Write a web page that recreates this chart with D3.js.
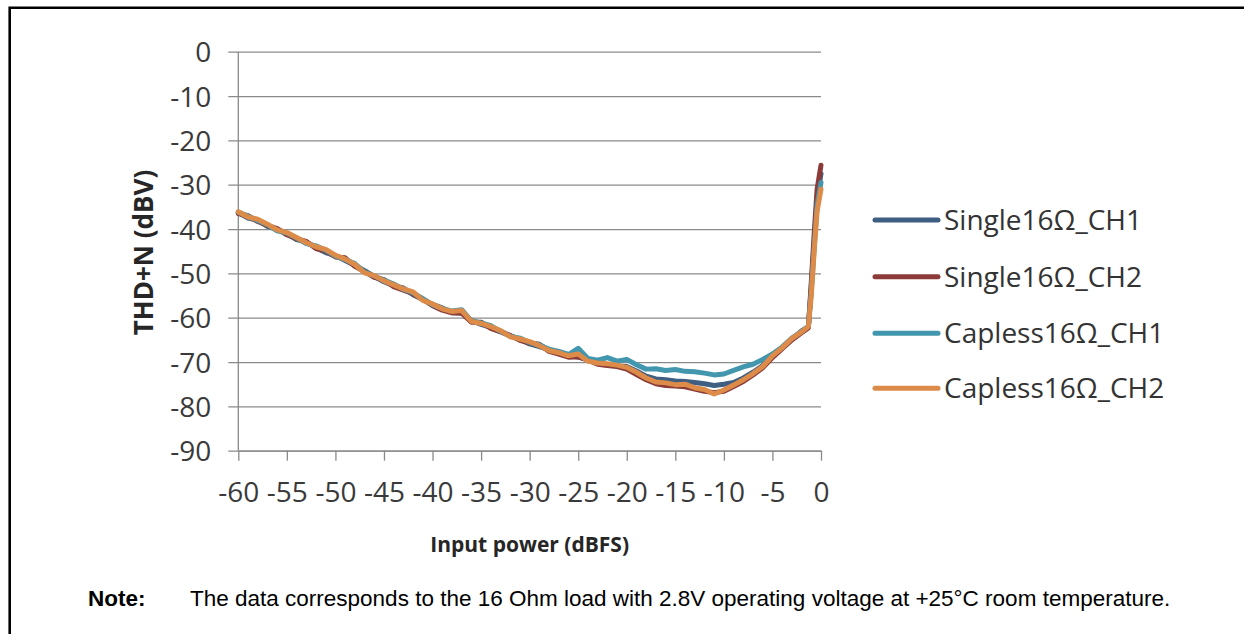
<!DOCTYPE html>
<html>
<head>
<meta charset="utf-8">
<script src="https://cdn.jsdelivr.net/npm/d3@7/dist/d3.min.js"></script>
<style>
  html, body { margin: 0; padding: 0; background: #fff; overflow: hidden; }
  svg { display: block; }
  .tick text { font-family: "Open Sans", sans-serif; fill: #3a3a3a; }
  .axis-label { font-family: "Open Sans", sans-serif; font-weight: bold; fill: #262626; }
  .legend text { font-family: "Open Sans", sans-serif; fill: #333; }
  .note { font-family: "Liberation Sans", Arial, sans-serif; fill: #000; }
</style>
</head>
<body>
<svg id="chart" width="1244" height="634"></svg>
<script>
  const xValues = [-60,-59,-58,-57,-56,-55,-54,-53,-52,-51,-50,-49,-48,-47,-46,-45,-44,-43,-42,-41,
    -40,-39,-38,-37,-36,-35,-34,-33,-32,-31,-30,-29,-28,-27,-26,-25,-24,-23,-22,-21,
    -20,-19,-18,-17,-16,-15,-14,-13,-12,-11,-10,-9,-8,-7,-6,-5,-4,-3,-2,-1.3,-1.0,-0.7,-0.4,0];

  const single1 = [-36.3,-37.5,-38.0,-39.4,-40.0,-41.0,-42.4,-42.9,-44.2,-45.3,
    -46.0,-47.1,-48.2,-49.4,-50.7,-51.9,-52.8,-53.3,-54.8,-55.9,
    -57.0,-57.8,-58.9,-58.8,-60.6,-61.5,-62.2,-63.0,-64.1,-64.9,
    -65.9,-66.5,-67.2,-68.1,-68.5,-68.9,-69.5,-70.1,-70.6,-70.9,
    -71.0,-72.0,-73.2,-73.8,-74.0,-74.3,-74.4,-74.6,-74.9,-75.3,
    -75.0,-74.6,-73.6,-72.3,-70.8,-68.8,-66.9,-64.9,-63.0,-62.1,
    -53.0,-43.0,-33.0,-27.5];

  const single2 = [-36.5,-37.0,-38.3,-39.2,-39.9,-41.3,-42.2,-42.8,-44.4,-45.0,
    -46.3,-46.5,-48.4,-49.6,-50.9,-51.4,-53.0,-53.8,-54.6,-55.8,
    -57.3,-58.3,-58.9,-59.0,-61.0,-61.0,-62.4,-63.2,-64.0,-65.1,
    -65.7,-66.0,-67.6,-68.2,-68.9,-68.8,-69.6,-70.5,-70.8,-71.0,
    -71.6,-72.8,-74.0,-74.9,-75.3,-75.4,-75.6,-76.1,-76.6,-76.9,
    -76.6,-75.5,-74.4,-72.9,-71.3,-69.0,-67.0,-65.0,-63.4,-62.3,
    -52.0,-41.0,-31.0,-25.6];

  const capless1 = [-36.2,-37.1,-38.1,-39.0,-40.4,-40.9,-42.0,-43.3,-43.8,-44.8,
    -46.1,-46.9,-47.8,-49.7,-50.6,-51.5,-52.4,-53.6,-54.4,-55.7,
    -57.1,-57.9,-58.5,-58.2,-60.7,-61.2,-61.8,-63.1,-64.2,-64.6,
    -65.6,-66.1,-67.1,-67.6,-68.3,-66.9,-69.2,-69.6,-69.0,-69.8,
    -69.4,-70.6,-71.6,-71.5,-71.9,-71.7,-72.1,-72.2,-72.5,-72.9,
    -72.7,-71.9,-71.1,-70.5,-69.4,-68.2,-66.6,-64.6,-63.1,-61.9,
    -54.0,-44.0,-34.5,-29.5];

  const capless2 = [-36.1,-37.3,-37.8,-38.9,-40.2,-40.8,-41.9,-43.1,-44.0,-44.6,
    -45.9,-46.8,-48.0,-49.9,-50.5,-51.7,-52.6,-53.5,-54.2,-56.1,
    -56.9,-58.0,-58.6,-58.4,-60.8,-61.3,-62.0,-62.9,-64.3,-64.8,
    -65.4,-66.3,-67.4,-67.9,-68.6,-68.2,-69.8,-70.2,-70.4,-70.7,
    -71.2,-72.3,-73.6,-74.5,-74.7,-75.1,-75.0,-75.8,-76.2,-77.2,
    -76.3,-75.2,-74.0,-72.6,-71.0,-68.6,-66.8,-64.7,-63.2,-62.0,
    -55.0,-45.0,-36.0,-31.0];

  const seriesNames = ['Single16Ω_CH1', 'Single16Ω_CH2', 'Capless16Ω_CH1', 'Capless16Ω_CH2'];
  const seriesColors = ['#3e5f82', '#8c3b38', '#4296ad', '#dc8b48'];
  const xTicks = [-60,-55,-50,-45,-40,-35,-30,-25,-20,-15,-10,-5,0];
  const yTicks = [0,-10,-20,-30,-40,-50,-60,-70,-80,-90];

(function (d3) {
  'use strict';

  const series = [single1, single2, capless1, capless2].map((vals, i) => ({
    name: seriesNames[i],
    color: seriesColors[i],
    points: xValues.map((x, j) => ({ x, y: vals[j] }))
  }));

  const svg = d3.select('#chart');

  // frame: only the top and left edges fall inside the picture
  svg.append('path')
    .attr('d', 'M9.7,634 V7.8 H1244')
    .attr('fill', 'none')
    .attr('stroke', '#000')
    .attr('stroke-width', 2.6);

  const plotLeft = 238.3, plotRight = 821, plotTop = 51.7, plotBottom = 450.7;
  const hyphen = d => d === 0 ? '0' : '-' + Math.abs(d);

  const xScale = d3.scaleLinear().domain([-60, 0]).range([plotLeft, plotRight]);
  const yScale = d3.scaleLinear().domain([-90, 0]).range([plotBottom, plotTop]);

  // gridlines, sticking out past the axis like Excel tick marks
  const gridG = svg.append('g')
    .attr('transform', `translate(${plotLeft - 10},0)`)
    .call(d3.axisLeft(yScale).tickValues(yTicks).tickSize(-(plotRight - plotLeft + 10)).tickFormat(''));
  gridG.select('.domain').remove();
  gridG.selectAll('.tick line').attr('stroke', '#8a8a8a').attr('stroke-width', 1.3);

  const yAxisG = svg.append('g')
    .attr('transform', `translate(${plotLeft - 10},0)`)
    .call(d3.axisLeft(yScale).tickValues(yTicks).tickSize(0).tickPadding(17).tickFormat(hyphen));
  yAxisG.select('.domain').remove();
  yAxisG.selectAll('.tick text').attr('font-size', 28).attr('dy', '0.36em');

  svg.append('line')
    .attr('x1', plotLeft).attr('x2', plotLeft)
    .attr('y1', plotTop).attr('y2', plotBottom)
    .attr('stroke', '#8a8a8a').attr('stroke-width', 1.3);

  const xAxisG = svg.append('g')
    .attr('transform', `translate(0,${plotBottom})`)
    .call(d3.axisBottom(xScale).tickValues(xTicks).tickSizeOuter(0).tickSizeInner(10).tickFormat(hyphen));
  xAxisG.select('.domain').attr('stroke', '#8a8a8a').attr('stroke-width', 1.3);
  xAxisG.selectAll('.tick line').attr('stroke', '#8a8a8a').attr('stroke-width', 1.3);
  xAxisG.selectAll('.tick text')
    .attr('font-size', 28)
    .attr('y', 41)
    .attr('dy', '0.36em');

  const line = d3.line()
    .x(d => xScale(d.x))
    .y(d => yScale(d.y));

  svg.append('g').selectAll('path').data(series)
    .enter().append('path')
      .attr('d', d => line(d.points))
      .attr('fill', 'none')
      .attr('stroke', d => d.color)
      .attr('stroke-width', 5)
      .attr('stroke-linejoin', 'round')
      .attr('stroke-linecap', 'round');

  svg.append('text')
    .attr('class', 'axis-label')
    .attr('transform', 'translate(144,252.5) rotate(-90)')
    .attr('text-anchor', 'middle')
    .attr('dy', '0.35em')
    .attr('font-size', 26)
    .text('THD+N (dBV)');

  svg.append('text')
    .attr('class', 'axis-label')
    .attr('x', (plotLeft + plotRight) / 2)
    .attr('y', 545)
    .attr('text-anchor', 'middle')
    .attr('dy', '0.35em')
    .attr('font-size', 21)
    .text('Input power (dBFS)');

  const legendY = [220, 276.7, 333.3, 388.3];
  const legend = svg.append('g').attr('class', 'legend')
    .selectAll('g').data(series)
    .enter().append('g')
      .attr('transform', (d, i) => `translate(875,${legendY[i]})`);
  legend.append('line')
    .attr('x1', 0).attr('x2', 63)
    .attr('stroke', d => d.color)
    .attr('stroke-width', 5)
    .attr('stroke-linecap', 'round');
  legend.append('text')
    .attr('x', 69)
    .attr('dy', '0.36em')
    .attr('font-size', 28)
    .text(d => d.name);

  svg.append('text')
    .attr('class', 'note')
    .attr('x', 88).attr('y', 598)
    .attr('dy', '0.35em')
    .attr('font-size', 22.5)
    .attr('font-weight', 'bold')
    .text('Note:');
  svg.append('text')
    .attr('class', 'note')
    .attr('x', 190).attr('y', 598)
    .attr('dy', '0.35em')
    .attr('font-size', 22.5)
    .text('The data corresponds to the 16 Ohm load with 2.8V operating voltage at +25°C room temperature.');

  // keep the right margin clear of anything but the top frame edge
  svg.append('rect')
    .attr('x', 1215).attr('y', 10)
    .attr('width', 29).attr('height', 624)
    .attr('fill', '#fff');

}(d3));
</script>
</body>
</html>
